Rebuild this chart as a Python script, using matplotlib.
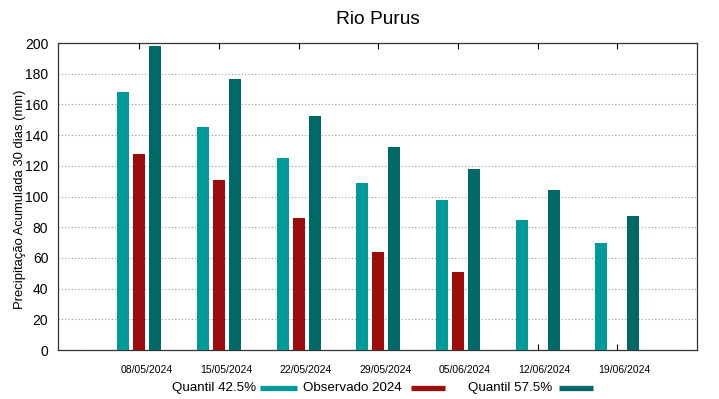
import numpy as np
import matplotlib
matplotlib.use("Agg")
import matplotlib.pyplot as plt
import matplotlib.transforms as mtransforms
from matplotlib.lines import Line2D

plt.rcParams['font.family'] = ['Liberation Sans', 'DejaVu Sans']

# dados
datas = ['08/05/2024', '15/05/2024', '22/05/2024', '29/05/2024',
         '05/06/2024', '12/06/2024', '19/06/2024']
quantil_425 = [168, 145, 125, 109, 98, 85, 70]
observado_2024 = [128, 111, 86, 64, 51, np.nan, np.nan]
quantil_575 = [198, 176.5, 152.5, 132, 118, 104, 87]
series = ['Quantil 42.5%', 'Observado 2024', 'Quantil 57.5%']

cor_q425 = '#009b98'
cor_obs = '#9b0e0e'
cor_q575 = '#006866'

x = np.arange(len(datas))
larg = 0.15
desloc = 0.2

W, H = 719, 399
fig = plt.figure(figsize=(W / 100, H / 100), dpi=100)
ax = fig.add_axes([0.0807, 0.1228, 0.8887, 0.7694])

ax.bar(x - desloc, quantil_425, larg, color=cor_q425, zorder=3)
ax.bar(x, observado_2024, larg, color=cor_obs, zorder=3)
ax.bar(x + desloc, quantil_575, larg, color=cor_q575, zorder=3)

ax.set_xlim(-1.02, 7.0)
ax.set_ylim(0, 200)
ax.set_yticks(np.arange(0, 201, 20))
ax.set_xticks(x)
ax.set_xticklabels(datas, fontsize=7.5)
ax.tick_params(axis='x', direction='in', length=4, top=True, pad=11)
ax.tick_params(axis='y', direction='out', length=0, labelsize=10, pad=7)
# rótulos deslocados um pouco para a direita
off = mtransforms.ScaledTranslation(7 / 100, 0, fig.dpi_scale_trans)
for lbl in ax.get_xticklabels():
    lbl.set_transform(lbl.get_transform() + off)

ax.yaxis.grid(True, linestyle=(0, (1, 2)), color='#999999', linewidth=0.8, zorder=0)
for s in ax.spines.values():
    s.set_color('#333333')
    s.set_linewidth(0.9)

ax.set_ylabel('Precipitação Acumulada 30 dias (mm)', fontsize=9.4)
ax.yaxis.set_label_coords(-0.050, 0.49)
ax.set_title('Rio Purus', fontsize=13.8, pad=14)

# legenda ao estilo gnuplot: texto seguido da amostra
cores = [cor_q425, cor_obs, cor_q575]
fim_texto = [256, 402, 552]
amostra = [(260, 297), (411, 445), (559, 593)]
y_leg = 1 - 388 / H
for nome, cor, xt, (a0, a1) in zip(series, cores, fim_texto, amostra):
    fig.text(xt / W, y_leg, nome, ha='right', va='center', fontsize=9.6)
    fig.add_artist(Line2D([a0 / W, a1 / W], [y_leg, y_leg], color=cor, lw=3.8,
                          solid_capstyle='butt', transform=fig.transFigure))

fig.savefig('out.png', dpi=100)
